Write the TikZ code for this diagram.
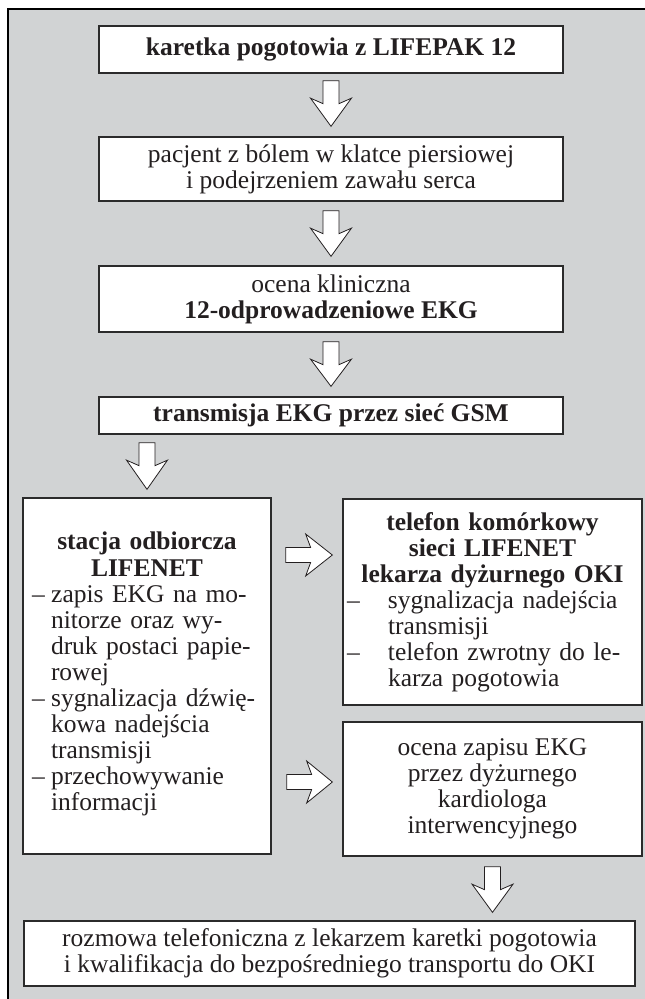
\documentclass[tikz,border=0pt]{standalone}
\usepackage{fontspec}
\setmainfont{Liberation Serif}
\usetikzlibrary{calc}
\definecolor{bggray}{HTML}{D1D3D4}
\definecolor{ink}{HTML}{231F20}
\definecolor{boxline}{HTML}{2B2B2B}
\setlength\parindent{0pt}
\tikzset{
  flowbox/.style={draw=boxline, line width=1.3pt, fill=white, inner sep=0pt,
    text=ink, font=\fontsize{25.5}{26}\selectfont},
  barrow/.style={draw=ink, line width=0.8pt, fill=white, line join=miter}
}
\newcommand{\downarr}[2]{%
  \draw[barrow] let \p1=(#1), \p2=(#2) in
    (\x1-8pt,\y1) -- (\x1-8pt,\y1-23pt) -- (\x1-20.5pt,\y1-17.5pt) -- (\x1,\y2)
    -- (\x1+20.5pt,\y1-17.5pt) -- (\x1+8pt,\y1-23pt) -- (\x1+8pt,\y1) -- cycle;}
\newcommand{\rightarr}[2]{%
  \draw[barrow] let \p1=(#1), \p2=(#2) in
    (\x1,\y1+7.5pt) -- (\x1+25pt,\y1+7.5pt) -- (\x1+20pt,\y1+21pt) -- (\x2,\y1)
    -- (\x1+20pt,\y1-21pt) -- (\x1+25pt,\y1-7.5pt) -- (\x1,\y1-7.5pt) -- cycle;}
\begin{document}
\begin{tikzpicture}[x=1pt,y=-1pt]
\useasboundingbox (0,0) rectangle (645,999);
\draw[fill=bggray, draw=black, line width=2.6pt] (8,9) rectangle (690,1050);

\node[flowbox, align=center, minimum width=464pt, minimum height=47pt] (b1) at (331,49.5)
  {\bfseries karetka pogotowia z LIFEPAK 12};
\node[flowbox, align=center, minimum width=464pt, minimum height=64pt] (b2) at (331,169)
  {pacjent z bólem w klatce piersiowej\\ i podejrzeniem zawału serca};
\node[flowbox, align=center, minimum width=464pt, minimum height=66pt] (b3) at (331,299)
  {ocena kliniczna\\ \textbf{12-odprowadzeniowe EKG}};
\node[flowbox, align=center, minimum width=464pt, minimum height=37pt] (b4) at (331,415.5)
  {\bfseries transmisja EKG przez sieć GSM};

\node[flowbox, text width=230pt, minimum width=248pt, minimum height=356pt] (lbox) at (147,676)
  {{\centering\bfseries\fontsize{25.5}{27.5}\selectfont stacja odbiorcza\\ LIFENET\par}%
   \raggedright
   –\hspace{6.5pt}zapis EKG na mo-\\
   \hspace*{19pt}nitorze oraz wy-\\
   \hspace*{19pt}druk postaci papie-\\
   \hspace*{19pt}rowej\\
   –\hspace{6.5pt}sygnalizacja dźwię-\\
   \hspace*{19pt}kowa nadejścia\\
   \hspace*{19pt}transmisji\\
   –\hspace{6.5pt}przechowywanie\\
   \hspace*{19pt}informacji\par\vspace*{4pt}};

\node[flowbox, text width=291pt, minimum width=299pt, minimum height=206pt] (r1) at (492.5,602)
  {{\centering\bfseries telefon komórkowy\\ sieci LIFENET\\ lekarza dyżurnego OKI\par}%
   \rightskip=16pt
   \hangindent=41pt\hangafter=1\makebox[41pt][l]{–}sygnalizacja nadejścia\linebreak transmisji\par
   \hangindent=41pt\hangafter=1\makebox[41pt][l]{–}telefon zwrotny do le-\linebreak karza pogotowia\par};

\node[flowbox, align=center, minimum width=299pt, minimum height=134pt] (r2) at (492.5,789)
  {ocena zapisu EKG\\ przez dyżurnego\\ kardiologa\\ interwencyjnego};

\node[flowbox, align=center, minimum width=611pt, minimum height=65pt] (b5) at (329.5,953.5)
  {rozmowa telefoniczna z lekarzem karetki pogotowia\\ i kwalifikacja do bezpośredniego transportu do OKI};

\downarr{$(b1.south)+(0,7)$}{$(b2.north)+(0,-10)$}
\downarr{$(b2.south)+(0,9)$}{$(b3.north)+(0,-9)$}
\downarr{$(b3.south)+(0,9)$}{$(b4.north)+(0,-10)$}
\downarr{$(lbox.north |- b4.south)+(0,8)$}{$(lbox.north)+(0,-8)$}
\rightarr{$(lbox.east |- r1.west)+(14,-47)$}{$(r1.west)+(-10,-47)$}
\rightarr{$(lbox.east |- r2.west)+(15,-7)$}{$(r2.west)+(-10,-7)$}
\downarr{$(r2.south)+(0,10)$}{$(r2.south |- b5.north)+(0,-8)$}
\end{tikzpicture}
\end{document}
